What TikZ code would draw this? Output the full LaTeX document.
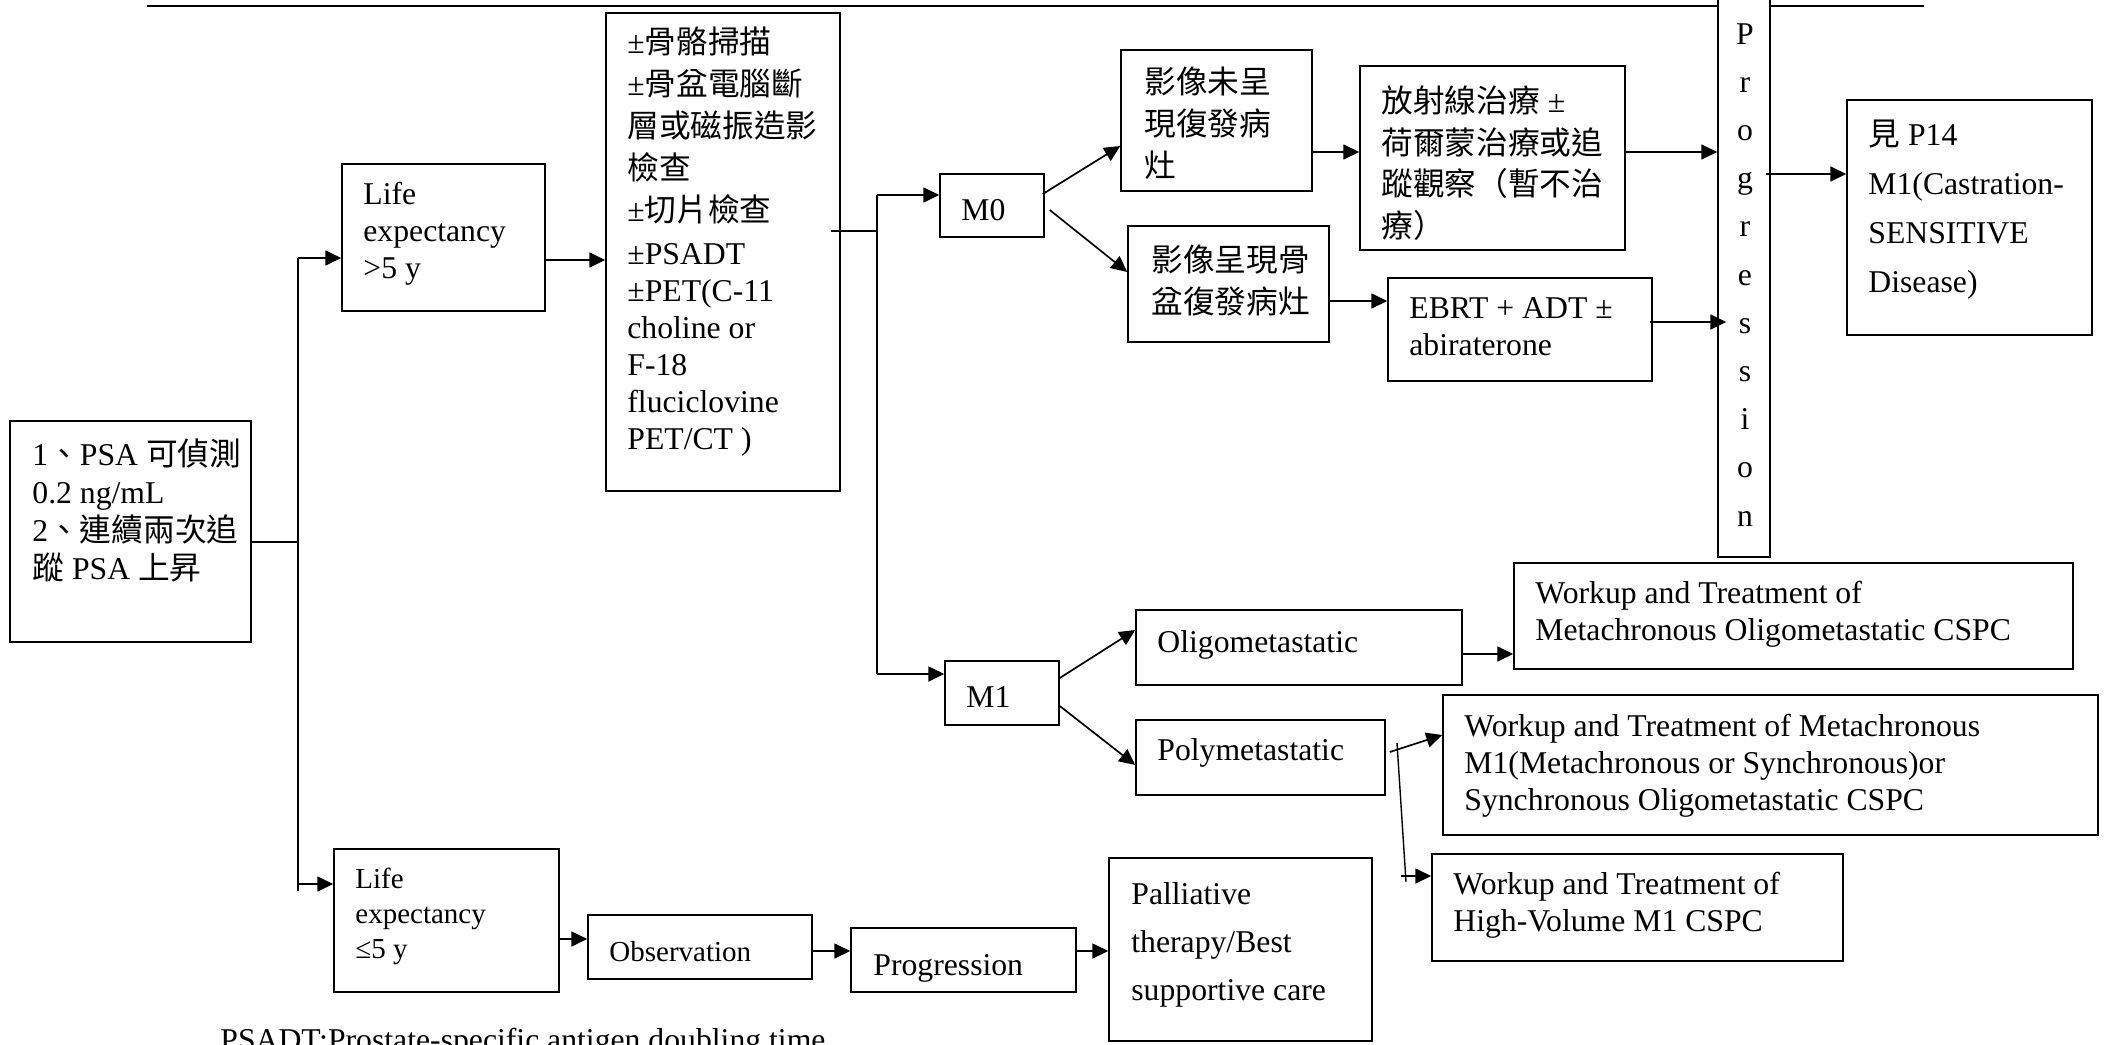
\documentclass[tikz,border=0pt]{standalone}
\usepackage{fontspec}
\setmainfont{Liberation Serif}
\newfontfamily\cjk{Noto Sans CJK TC}
\usetikzlibrary{arrows.meta,fit,calc}
\begin{document}
\begin{tikzpicture}[x=0.5pt,y=-0.5pt,
  box/.style={draw,line width=0.75pt,inner sep=0pt},
  txt/.style={inner sep=0pt,align=left,anchor=base west,font=\fontsize{15.85}{18.5}\selectfont},
  small/.style={font=\fontsize{14.5}{17.3}\selectfont},
  arr/.style={line width=0.85pt,-{Triangle[length=8pt,width=7.5pt]}},
  ln/.style={line width=0.7pt}]
\useasboundingbox (0,0) rectangle (2109,1044);
\clip (0,0) rectangle (2109,1044);
% top rule
\draw[ln] (147,6) -- (1924,6);
% boxes
\node[box,fit={(10,421) (251,642)}] (A) {};
\node[box,fit={(342,164) (545,311)}] (L5) {};
\node[box,fit={(606,13) (840,491)}] (big) {};
\node[box,fit={(940,174) (1044,237)}] (M0) {};
\node[box,fit={(1121,50) (1312,191)}] (ns) {};
\node[box,fit={(1128,226) (1329,342)}] (ps) {};
\node[box,fit={(1360,66) (1625,250)}] (rt) {};
\node[box,fit={(1388,278) (1652,381)}] (eb) {};
\node[box,fill=white,fit={(1718,-10) (1770,557)}] (pr) {};
\node[box,fit={(1847,100) (2092,335)}] (see) {};
\node[box,fit={(945,661) (1059,725)}] (M1) {};
\node[box,fit={(1136,610) (1462,685)}] (oli) {};
\node[box,fit={(1136,720) (1385,795)}] (poly) {};
\node[box,fit={(1514,563) (2073,669)}] (w1) {};
\node[box,fit={(1443,695) (2098,835)}] (w2) {};
\node[box,fit={(1432,854) (1843,961)}] (w3) {};
\node[box,fit={(334,849) (559,992)}] (L5b) {};
\node[box,fit={(588,915) (812,979)}] (obs) {};
\node[box,fit={(851,928) (1076,992)}] (prg) {};
\node[box,fit={(1109,858) (1372,1041)}] (pal) {};
% texts (anchored at the baseline of the last line)
\node[txt,font=\fontsize{15.85}{19}\selectfont] (At) at (32,579) {1{\cjk 、}PSA {\cjk 可偵測}\\0.2 ng/mL\\2{\cjk 、連續兩次追}\\{\cjk 蹤} PSA {\cjk 上昇}};
\node[txt,font=\fontsize{15.85}{18.3}\selectfont] (L5t) at (363,278) {Life\\expectancy\\>5 y};
\node[txt] (bigt) at (627,449) {±{\cjk 骨骼掃描}\\[2.5pt]±{\cjk 骨盆電腦斷}\\[2.5pt]{\cjk 層或磁振造影}\\[2.5pt]{\cjk 檢查}\\[2.5pt]±{\cjk 切片檢查}\\[3pt]±PSADT\\±PET(C-11\\choline or\\F-18\\fluciclovine\\PET/CT )};
\node[txt] (M0t) at (961,220) {M0};
\node[txt,font=\fontsize{15.85}{20.8}\selectfont] (nst) at (1144,177) {{\cjk 影像未呈}\\{\cjk 現復發病}\\{\cjk 灶}};
\node[txt,font=\fontsize{15.85}{20.8}\selectfont] (pst) at (1151,313) {{\cjk 影像呈現骨}\\{\cjk 盆復發病灶}};
\node[txt,font=\fontsize{15.85}{20.7}\selectfont] (rtt) at (1381,237) {{\cjk 放射線治療} ±\\{\cjk 荷爾蒙治療或追}\\{\cjk 蹤觀察（暫不治}\\{\cjk 療）}};
\node[txt] (ebt) at (1409,355) {EBRT + ADT ±\\abiraterone};
\node[txt,align=center,anchor=base,font=\fontsize{15.85}{24.1}\selectfont] (prt) at (1745,526) {P\\r\\o\\g\\r\\e\\s\\s\\i\\o\\n};
\node[txt,font=\fontsize{15.85}{24.5}\selectfont] (seet) at (1868,292) {{\cjk 見} P14\\M1(Castration-\\SENSITIVE\\Disease)};
\node[txt] (M1t) at (966,707) {M1};
\node[txt] (olit) at (1157,652) {Oligometastatic};
\node[txt] (polyt) at (1157,760) {Polymetastatic};
\node[txt] (w1t) at (1535,640) {Workup and Treatment of\\Metachronous Oligometastatic CSPC};
\node[txt] (w2t) at (1464,810) {Workup and Treatment of Metachronous\\M1(Metachronous or Synchronous)or\\Synchronous Oligometastatic CSPC};
\node[txt] (w3t) at (1453,931) {Workup and Treatment of\\High-Volume M1 CSPC};
\node[txt,small] (L5bt) at (355,958) {Life\\expectancy\\≤5 y};
\node[txt,small] (obst) at (609,961) {Observation};
\node[txt] (prgt) at (873,975) {Progression};
\node[txt,font=\fontsize{15.85}{24}\selectfont] (palt) at (1131,1000) {Palliative\\therapy/Best\\supportive care};
\node[txt] (fn) at (220,1050) {PSADT:Prostate-specific antigen doubling time};
% connectors
\coordinate (trTop) at (298,258);
\coordinate (trA) at (298,542);
\coordinate (trL) at (298,884);
\coordinate (trBot) at (298,891);
\draw[ln] (trTop) -- (trBot);
\draw[ln] (A.east |- trA) -- (trA);
\draw[arr] (trTop) -- (L5.west |- trTop);
\draw[arr] (trL) -- (L5b.west |- trL);
\draw[arr] (L5.east |- 0,260) -- (big.west |- 0,260);
\coordinate (sp) at (877,231);
\coordinate (s0) at (877,195);
\coordinate (s1) at (877,674);
\draw[ln] ($(big.east |- sp)+(-10,0)$) -- (sp);
\draw[ln] (s0) -- (s1);
\draw[arr] (s0) -- (M0.west |- s0);
\draw[arr] (s1) -- (M1.west |- s1);
\draw[arr] ($(M0.east |- 0,194)+(-2,0)$) -- (ns.west |- 0,146);
\draw[arr] ($(M0.east |- 0,210)+(5,0)$) -- (ps.west |- 0,272);
\draw[arr] (ns.east |- 0,152) -- (rt.west |- 0,152);
\draw[arr] (ps.east |- 0,301) -- (eb.west |- 0,301);
\draw[arr] (rt.east |- 0,152) -- (pr.west |- 0,152);
\draw[arr,shorten >=-4.5pt] ($(eb.east |- 0,322)+(-3,0)$) -- (pr.west |- 0,322);
\draw[arr] ($(pr.east |- 0,174)+(-5,0)$) -- (see.west |- 0,174);
\draw[arr] (M1.east |- 0,678) -- (oli.west |- 0,630);
\draw[arr] (M1.east |- 0,706) -- (poly.west |- 0,765);
\draw[arr] (oli.east |- 0,654) -- (w1.west |- 0,654);
\draw[arr] ($(poly.east |- 0,752)+(4,0)$) -- (w2.west |- 0,735);
\coordinate (pa) at (1397,743);
\coordinate (pb) at (1406,882);
\coordinate (pc) at (1401,876);
\draw[ln] (pa) -- (pb);
\draw[arr] (pc) -- (w3.west |- pc);
\draw[arr] (L5b.east |- 0,939) -- (obs.west |- 0,939);
\draw[arr] ($(obs.east |- 0,951)+(-2,0)$) -- (prg.west |- 0,951);
\draw[arr] (prg.east |- 0,951) -- (pal.west |- 0,951);
\end{tikzpicture}
\end{document}
